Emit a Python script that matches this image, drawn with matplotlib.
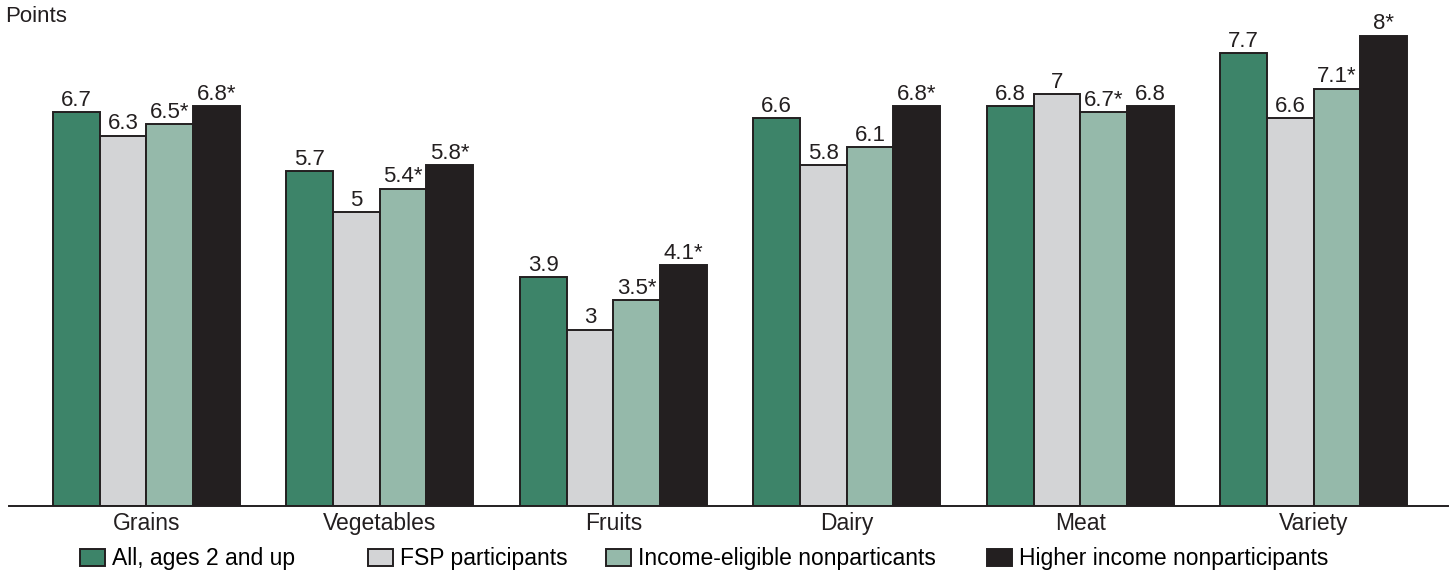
import numpy as np
import matplotlib.pyplot as plt
from matplotlib.patches import Patch

plt.rcParams['font.family'] = ['Liberation Sans', 'DejaVu Sans']

categories = ['Grains', 'Vegetables', 'Fruits', 'Dairy', 'Meat', 'Variety']
series_names = ['All, ages 2 and up', 'FSP participants',
                'Income-eligible nonparticants', 'Higher income nonparticipants']
all_ages = [6.7, 5.7, 3.9, 6.6, 6.8, 7.7]
fsp = [6.3, 5.0, 3.0, 5.8, 7.0, 6.6]
eligible = [6.5, 5.4, 3.5, 6.1, 6.7, 7.1]
higher = [6.8, 5.8, 4.1, 6.8, 6.8, 8.0]
# labels as printed on the chart (star = significant)
lbl_all = ['6.7', '5.7', '3.9', '6.6', '6.8', '7.7']
lbl_fsp = ['6.3', '5', '3', '5.8', '7', '6.6']
lbl_elig = ['6.5*', '5.4*', '3.5*', '6.1', '6.7*', '7.1*']
lbl_high = ['6.8*', '5.8*', '4.1*', '6.8*', '6.8', '8*']

colors = ['#3d8469', '#d3d4d6', '#95b9aa', '#231f20']
ink = '#231f20'

fig = plt.figure(figsize=(14.55, 5.73), dpi=100)
ax = fig.add_axes([9 / 1455, 67 / 573, 1439 / 1455, 488 / 573])

x = np.arange(len(categories))
w = 0.2
data = [all_ages, fsp, eligible, higher]
labels = [lbl_all, lbl_fsp, lbl_elig, lbl_high]
for i, (vals, lbls) in enumerate(zip(data, labels)):
    pos = x - 1.5 * w + i * w
    ax.bar(pos, vals, w, color=colors[i], edgecolor=ink, linewidth=1.4)
    for p, v, t in zip(pos, vals, lbls):
        ax.text(p, v + 0.02, t, ha='center', va='bottom', fontsize=16, color=ink)

ax.set_xlim(-0.588, 5.575)
ax.set_ylim(0, 8.3)
ax.set_xticks(x)
ax.set_xticklabels(categories, fontsize=16.5, color=ink)
ax.tick_params(axis='x', length=0, pad=4)
ax.set_yticks([])
for s in ['top', 'right', 'left']:
    ax.spines[s].set_visible(False)
ax.spines['bottom'].set_linewidth(1.4)
ax.spines['bottom'].set_color(ink)

fig.text(5 / 1455, 1 - 17 / 573, 'Points', fontsize=16, va='center', ha='left', color=ink)

# legend entries placed one by one, as in the original
leg_x = [80, 368, 606, 987]
for i, name in enumerate(series_names):
    h = Patch(facecolor=colors[i], edgecolor=ink, linewidth=1.4)
    fig.legend([h], [name], loc='center left',
               bbox_to_anchor=(leg_x[i] / 1455, 1 - 559 / 573),
               frameon=False, fontsize=16.5, handlelength=1.1, handleheight=0.8,
               handletextpad=0.3, borderpad=0, borderaxespad=0)

fig.savefig('out.png', dpi=100)
